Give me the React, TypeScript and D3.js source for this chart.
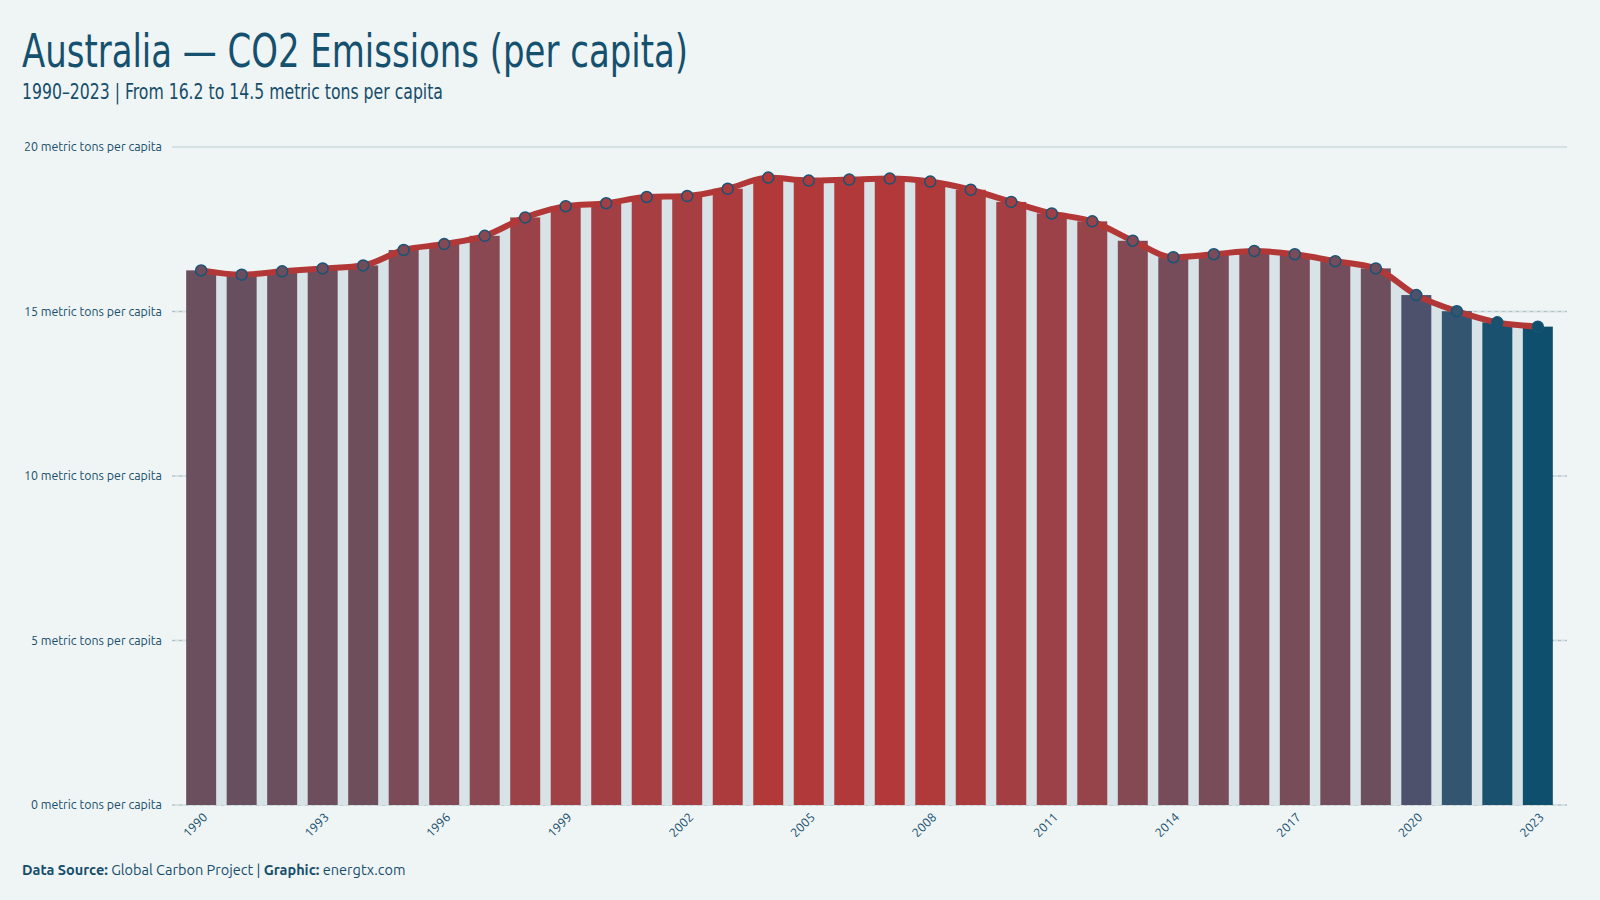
import React from "react";
import * as d3 from "d3";

const years: number[] = [
  1990, 1991, 1992, 1993, 1994, 1995, 1996, 1997, 1998, 1999, 2000, 2001,
  2002, 2003, 2004, 2005, 2006, 2007, 2008, 2009, 2010, 2011, 2012, 2013,
  2014, 2015, 2016, 2017, 2018, 2019, 2020, 2021, 2022, 2023,
];
const emissions: number[] = [
  16.25, 16.12, 16.22, 16.31, 16.4, 16.87, 17.05, 17.3, 17.86, 18.2, 18.29,
  18.48, 18.51, 18.73, 19.07, 18.98, 19.01, 19.04, 18.95, 18.7, 18.33, 17.98,
  17.74, 17.15, 16.65, 16.74, 16.84, 16.74, 16.53, 16.31, 15.5, 15.01, 14.67,
  14.54,
];
const yTicks: number[] = [0, 5, 10, 15, 20];
const xTickYears: number[] = [
  1990, 1993, 1996, 1999, 2002, 2005, 2008, 2011, 2014, 2017, 2020, 2023,
];

const W = 1600;
const H = 900;
const BG = "#eff5f5";
const TEXT = "#174d6b";
const FONT = "Ubuntu, 'Open Sans', 'Noto Sans', sans-serif";
const COND = "'Ubuntu Condensed', 'Liberation Sans Narrow', 'DejaVu Sans Condensed', 'Open Sans', sans-serif";

export default function App() {
  const data = years.map((y, i) => ({ year: y, value: emissions[i] }));

  const x = d3
    .scaleBand<number>()
    .domain(years)
    .range([172, 1567])
    .paddingInner(0.26)
    .paddingOuter(0.35);
  const y = d3.scaleLinear().domain([0, 20]).range([805, 147]);

  const color = d3
    .scaleLinear<string>()
    .domain([14.54, 15.01, 15.5, 16.2, 16.87, 17.3, 17.86, 18.48, 19.07])
    .range([
      "#0f4f6e",
      "#33556f",
      "#4e516b",
      "#6a4f5e",
      "#7c4b58",
      "#8a4852",
      "#9a4248",
      "#a63e42",
      "#b33838",
    ])
    .clamp(true);

  const cx = (d: { year: number }) => (x(d.year) as number) + x.bandwidth() / 2;

  const line = d3
    .line<{ year: number; value: number }>()
    .x(cx)
    .y((d) => y(d.value))
    .curve(d3.curveMonotoneX);
  const area = d3
    .area<{ year: number; value: number }>()
    .x(cx)
    .y0(y(0))
    .y1((d) => y(d.value))
    .curve(d3.curveMonotoneX);

  return (
    <svg
      width={W}
      height={H}
      style={{ display: "block", position: "absolute", left: 0, top: 0 }}
    >
      <rect x={0} y={0} width={W} height={H} fill={BG} />

      <text
        x={22}
        y={67}
        fill="#15506e"
        fontFamily={COND}
        fontSize={46}
        textLength={666}
        lengthAdjust="spacingAndGlyphs"
      >
        Australia — CO2 Emissions (per capita)
      </text>
      <text
        x={22}
        y={99}
        fill={TEXT}
        fontFamily={COND}
        fontSize={21}
        textLength={421}
        lengthAdjust="spacingAndGlyphs"
      >
        1990–2023 | From 16.2 to 14.5 metric tons per capita
      </text>

      {/* grid */}
      {yTicks.map((t) => (
        <g key={t}>
          <line
            x1={172}
            x2={1567}
            y1={y(t)}
            y2={y(t)}
            stroke="#d6e1e4"
            strokeWidth={2}
          />
          {t !== 20 && (
            <line
              x1={172}
              x2={1567}
              y1={y(t)}
              y2={y(t)}
              stroke="#b3bfc3"
              strokeWidth={1}
              strokeDasharray="3,4"
            />
          )}
          <text
            x={162}
            y={y(t)}
            dy="0.35em"
            textAnchor="end"
            fill={TEXT}
            fontFamily={FONT}
            fontSize={12.4}
          >
            {t} metric tons per capita
          </text>
        </g>
      ))}

      <path d={area(data) || ""} fill="#d8e3e7" />

      {data.map((d) => (
        <rect
          key={d.year}
          x={x(d.year)}
          y={y(d.value)}
          width={x.bandwidth()}
          height={y(0) - y(d.value)}
          fill={color(d.value)}
        />
      ))}

      <path
        d={line(data) || ""}
        fill="none"
        stroke="#b23838"
        strokeWidth={6}
        strokeLinejoin="round"
        strokeLinecap="round"
      />
      {data.map((d) => (
        <circle
          key={d.year}
          cx={cx(d)}
          cy={y(d.value)}
          r={5.5}
          fill={color(d.value)}
          stroke="#175476"
          strokeWidth={1.5}
        />
      ))}

      {xTickYears.map((yr) => {
        const px = (x(yr) as number) + x.bandwidth() / 2;
        return (
          <text
            key={yr}
            transform={`translate(${px + 7},${818}) rotate(-45)`}
            textAnchor="end"
            fill={TEXT}
            fontFamily={FONT}
            fontSize={12.5}
          >
            {yr}
          </text>
        );
      })}

      <text x={22} y={875} fill={TEXT} fontFamily={FONT} fontSize={14.5}>
        <tspan fontWeight="bold">Data Source:</tspan>
        <tspan> Global Carbon Project | </tspan>
        <tspan fontWeight="bold">Graphic:</tspan>
        <tspan> energtx.com</tspan>
      </text>
    </svg>
  );
}
